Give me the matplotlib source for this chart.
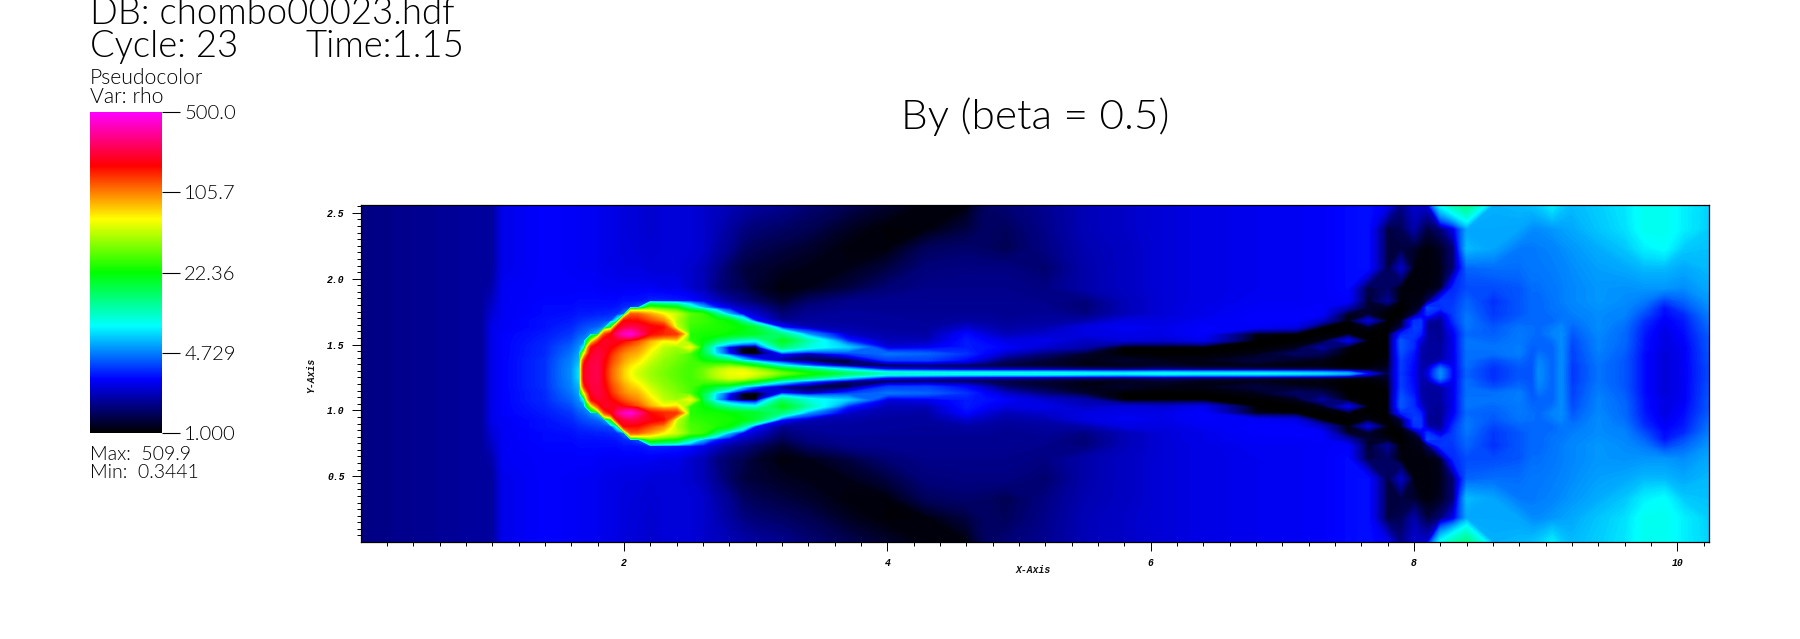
import numpy as np
from matplotlib import pyplot as plt
from matplotlib.cm import ScalarMappable
from matplotlib.colors import LinearSegmentedColormap, LogNorm

W, H = 1800, 639

bar_ticks = [1.0, 4.729, 22.36, 105.7, 500.0]
bar_labels = ['1.000', '4.729', '22.36', '105.7', '500.0']
x_ticks = [2, 4, 6, 8, 10]
y_ticks = [0.5, 1.0, 1.5, 2.0, 2.5]

# distance from the mid line y = 1.28, the picture is close to mirrored
dy_rows = [0, .03, .06, .10, .15, .20, .25, .30, .35, .40, .45, .50, .55, .65, .80, .95, 1.10, 1.28]

x_cols = [0.0, 0.45, 0.92, 1.0, 1.08, 1.4, 1.6, 1.66, 1.70, 1.75, 1.8, 1.85, 1.9, 1.95, 2.0, 2.05, 2.1, 2.2, 2.3, 2.4,
          2.5, 2.6, 2.7, 2.8, 2.9, 3.0, 3.2, 3.4, 3.7, 4.0, 4.3, 4.6, 4.75, 4.9, 5.2, 5.5, 5.8, 6.1, 6.4, 6.8,
          7.1, 7.3, 7.5, 7.65, 7.8, 7.9, 8.0, 8.05, 8.1, 8.2, 8.3, 8.4, 8.6, 8.8, 8.9, 8.95, 9.05, 9.12, 9.2, 9.4,
          9.6, 9.75, 9.9, 10.05, 10.24]

# rho, one line per x column, dy_rows from centre to top
rho_top = [
    [1.7, 1.7, 1.7, 1.7, 1.7, 1.7, 1.7, 1.7, 1.7, 1.7, 1.7, 1.7, 1.7, 1.7, 1.7, 1.7, 1.7, 1.7],
    [1.8, 1.8, 1.8, 1.8, 1.8, 1.8, 1.8, 1.8, 1.8, 1.8, 1.8, 1.8, 1.8, 1.8, 1.8, 1.8, 1.8, 1.8],
    [1.9, 1.9, 1.9, 1.9, 1.9, 1.9, 1.9, 1.9, 1.9, 1.9, 1.9, 1.9, 1.9, 1.9, 1.9, 1.9, 1.9, 1.9],
    [2.6, 2.6, 2.6, 2.6, 2.6, 2.6, 2.6, 2.6, 2.6, 2.5, 2.4, 2.3, 2.2, 2.0, 1.9, 1.9, 1.9, 1.9],
    [2.8, 2.8, 2.8, 2.8, 2.8, 2.8, 2.8, 2.8, 2.7, 2.7, 2.7, 2.7, 2.7, 2.7, 2.6, 2.6, 2.6, 2.6],
    [3.4, 3.4, 3.4, 3.4, 3.3, 3.3, 3.2, 3.1, 3.0, 3.0, 2.9, 2.9, 2.85, 2.8, 2.8, 2.8, 2.8, 2.8],
    [5, 5, 4.9, 4.8, 4.5, 4.2, 3.8, 3.5, 3.3, 3.1, 3, 2.9, 2.85, 2.8, 2.75, 2.75, 2.75, 2.75],
    [7, 7, 6.5, 6, 5.5, 5, 4.5, 4, 3.6, 3.3, 3.1, 3, 2.9, 2.8, 2.7, 2.7, 2.7, 2.7],
    [200, 200, 190, 150, 60, 8, 5, 4.2, 3.8, 3.4, 3.1, 3, 2.9, 2.8, 2.7, 2.7, 2.7, 2.7],
    [230, 230, 230, 225, 200, 160, 40, 5, 4, 3.5, 3.1, 3, 2.9, 2.8, 2.7, 2.7, 2.7, 2.7],
    [240, 240, 240, 230, 230, 210, 120, 6, 4.2, 3.6, 3.2, 3, 2.9, 2.75, 2.65, 2.65, 2.65, 2.65],
    [170, 170, 175, 185, 200, 200, 210, 120, 5, 3.7, 3.2, 3, 2.9, 2.7, 2.6, 2.6, 2.6, 2.6],
    [120, 120, 125, 135, 150, 180, 200, 170, 20, 3.8, 3.3, 3, 2.9, 2.7, 2.6, 2.6, 2.6, 2.6],
    [95, 95, 100, 110, 120, 150, 200, 280, 180, 9, 3.4, 3.1, 2.9, 2.7, 2.55, 2.5, 2.5, 2.5],
    [75, 75, 80, 90, 100, 125, 170, 380, 220, 180, 4.5, 3.3, 3, 2.7, 2.5, 2.45, 2.45, 2.45],
    [62, 63, 68, 78, 90, 110, 150, 420, 240, 170, 120, 3.4, 3, 2.7, 2.5, 2.45, 2.4, 2.4],
    [52, 54, 60, 70, 85, 100, 130, 320, 230, 170, 120, 3.8, 3, 2.7, 2.5, 2.4, 2.4, 2.4],
    [42, 43, 45, 50, 58, 70, 85, 170, 190, 130, 90, 30, 3.2, 2.7, 2.4, 2.35, 2.3, 2.3],
    [36, 37, 38, 40, 44, 48, 62, 150, 170, 100, 65, 25, 3.2, 2.6, 2.4, 2.4, 2.4, 2.4],
    [32, 32, 33, 35, 38, 42, 70, 140, 50, 45, 50, 22, 3.1, 2.6, 2.4, 2.4, 2.4, 2.4],
    [29, 29, 29, 30, 30, 60, 27, 26, 28, 30, 32, 12, 3, 2.3, 2.3, 2.4, 2.4, 2.4],
    [34, 34, 30, 22, 17, 16, 22, 24, 26, 28, 28, 6, 2.6, 2.1, 2.1, 2.3, 2.3, 2.3],
    [48, 45, 32, 18, 7, 6, 15, 24, 25, 25, 14, 3.2, 2.2, 1.7, 1.8, 2, 2.1, 2.2],
    [58, 55, 35, 14, 3, 2.5, 11, 22, 24, 22, 6, 2.5, 1.9, 1.5, 1.5, 1.8, 1.9, 2.1],
    [62, 55, 28, 7, 1.1, 1.15, 9, 20, 22, 12, 2.8, 2.1, 1.7, 1.4, 1.3, 1.5, 1.7, 2],
    [55, 42, 20, 4, 1, 1, 8, 19, 18, 3, 2.3, 1.9, 1.5, 1.2, 1.25, 1.4, 1.6, 1.9],
    [35, 22, 8, 1.6, 3, 14, 20, 13, 3, 1.8, 1.6, 1.4, 1.2, 1.05, 1.15, 1.3, 1.5, 1.8],
    [24, 15, 4, 1.3, 2, 9, 11, 5, 2.1, 1.9, 1.8, 1.7, 1.5, 1.1, 1.1, 1.2, 1.4, 1.6],
    [15, 7, 1.6, 1.2, 3.5, 6.5, 3.2, 2.2, 2, 1.9, 1.9, 1.8, 1.75, 1.3, 1.1, 1.05, 1.15, 1.4],
    [10, 3, 1.2, 3.5, 4.5, 2.4, 2.1, 2, 1.9, 1.9, 1.85, 1.8, 1.8, 1.6, 1.3, 1.05, 1.02, 1.2],
    [9.5, 2.5, 1.4, 3.6, 4.2, 2.6, 2.1, 1.95, 1.9, 1.85, 1.85, 1.8, 1.8, 1.75, 1.65, 1.45, 1.05, 1.05],
    [9, 2.2, 1.4, 2.8, 3.4, 3.1, 3.1, 2.9, 2.3, 1.95, 1.85, 1.8, 1.8, 1.75, 1.7, 1.55, 1.3, 1.05],
    [9, 2.1, 1.35, 2.1, 2.8, 3, 2.8, 2.4, 2.1, 1.9, 1.85, 1.8, 1.8, 1.75, 1.7, 1.5, 1.5, 1.5],
    [9, 2, 1.3, 1.5, 2.2, 2.8, 2.5, 2.1, 1.95, 1.85, 1.8, 1.8, 1.8, 1.75, 1.7, 1.4, 1.45, 1.6],
    [9, 1.8, 1.2, 1.25, 1.6, 2.3, 2.6, 2.3, 2.05, 1.9, 1.85, 1.8, 1.75, 1.7, 1.55, 1.7, 1.75, 1.8],
    [8.5, 1.6, 1.1, 1.1, 1.2, 2, 2.2, 2.5, 2.5, 2, 1.7, 1.6, 1.65, 2, 2, 2.05, 2.1, 2.1],
    [8, 1.5, 1.1, 1.2, 1, 1, 2.4, 2.6, 2.7, 2.5, 2.1, 2.1, 2.1, 2.2, 2.2, 2.2, 2.25, 2.25],
    [8.5, 1.6, 1.2, 1.1, 1, 1, 2.3, 2.6, 2.6, 2.5, 2.4, 2.4, 2.4, 2.4, 2.4, 2.4, 2.4, 2.4],
    [8, 1.5, 1.1, 1.1, 1, 1, 2.6, 2.8, 2.8, 2.7, 2.6, 2.6, 2.55, 2.55, 2.55, 2.55, 2.55, 2.55],
    [8, 1.4, 1.1, 1.3, 1.1, 1, 1, 1.1, 2.7, 2.8, 2.8, 2.75, 2.7, 2.65, 2.65, 2.65, 2.65, 2.65],
    [7.5, 1.3, 1.05, 1.15, 1.5, 1.1, 1, 1, 2.5, 2.8, 2.8, 2.75, 2.7, 2.7, 2.7, 2.7, 2.7, 2.7],
    [7, 1.3, 1.05, 1.1, 1.4, 1.9, 1.1, 1, 1, 2.2, 2.8, 2.8, 2.75, 2.75, 2.75, 2.75, 2.75, 2.75],
    [6, 1.1, 1, 1, 1, 1.05, 2.6, 1.05, 1, 1, 1.1, 2, 2.8, 2.9, 2.9, 2.9, 2.9, 2.9],
    [2.8, 1.1, 1, 1, 1, 1, 1, 1, 1.1, 2.4, 1.2, 1.2, 1.2, 1.3, 3, 3, 3, 3],
    [1.3, 1.2, 1.1, 1.05, 1, 1, 1, 1, 1, 1, 1, 1.1, 1.8, 1.5, 1.3, 1.3, 1.3, 2.6],
    [3.5, 3.6, 3.6, 3.6, 3.8, 4, 4, 3.2, 1.3, 1.1, 1, 1, 1, 1.05, 2.2, 1.3, 1.4, 1.7],
    [2.7, 2.8, 2.8, 2.9, 3, 3.3, 3.3, 3.5, 3.6, 3.4, 1.3, 1.1, 1.1, 1.05, 1.05, 1.2, 2, 2.3],
    [2, 2, 2, 2, 2, 2.1, 2.4, 3.2, 3.5, 3.5, 2.4, 1.2, 1.1, 1.05, 1.05, 1.1, 1.6, 2.3],
    [2.4, 2.2, 2, 1.9, 1.9, 1.9, 1.9, 1.9, 1.8, 2, 3.4, 3.8, 1.4, 1.05, 1.05, 1.05, 1.3, 2.3],
    [5, 4.8, 3.6, 2, 1.9, 1.9, 1.8, 1.8, 1.8, 1.8, 2.3, 3.4, 3.5, 1.15, 1.1, 1.15, 1.6, 8],
    [2.6, 2.6, 2.6, 2.6, 2.6, 2.6, 2.6, 2.7, 3, 3.4, 3.6, 3.6, 3.5, 3.3, 1.6, 1.6, 2.6, 11],
    [4.2, 4.2, 4.4, 4.4, 4.4, 4.5, 4.5, 4.3, 4.5, 4.6, 4.5, 4.3, 4.2, 3.8, 4.2, 6, 5.5, 13],
    [3.4, 3.4, 3.5, 3.8, 4.4, 4.5, 4.3, 4.1, 4, 3.7, 3.5, 3.5, 3.4, 3.8, 4.4, 5.5, 5.6, 5.8],
    [4, 4, 4.1, 4.3, 4.7, 4.7, 4.6, 4.6, 4.5, 4.2, 4, 4, 4, 4, 4.4, 4.6, 5.5, 6],
    [4, 4, 4, 4, 4, 4.1, 4.3, 4.4, 4.4, 4.3, 4.3, 4.3, 4.3, 4.4, 4.6, 4.6, 5, 6.2],
    [5, 5, 4.9, 4.8, 4.5, 4.2, 4.2, 4.3, 4.3, 4.3, 4.3, 4.3, 4.3, 4.4, 4.6, 4.7, 5, 6.5],
    [4.2, 4.2, 4.2, 4.2, 4.2, 4.2, 4.4, 4.8, 4.6, 4.3, 4.4, 4.5, 4.5, 4.6, 4.7, 4.8, 5.2, 7.5],
    [5, 5, 5, 5, 5, 5, 5, 5, 4.9, 4.6, 4.5, 4.6, 4.7, 4.7, 4.8, 5, 5.4, 6.5],
    [3.5, 3.5, 3.5, 3.6, 3.6, 3.7, 3.8, 4, 4.2, 4.5, 4.7, 4.8, 4.9, 4.9, 5, 5.2, 5.6, 6],
    [4.5, 4.5, 4.5, 4.6, 4.7, 4.8, 4.8, 4.9, 5, 5, 5, 5.1, 5.2, 5.2, 5.4, 5.7, 6.3, 6.5],
    [4, 4, 4, 4, 4.1, 4.2, 4.3, 4.3, 4.4, 4.6, 4.8, 4.9, 5, 5.1, 5.6, 6.3, 7, 7.2],
    [2.9, 2.9, 2.9, 2.9, 2.9, 3, 3, 3.1, 3.2, 3.4, 3.8, 4.2, 4.6, 5.2, 6, 7.5, 8.5, 8.5],
    [2.4, 2.4, 2.4, 2.4, 2.4, 2.5, 2.5, 2.5, 2.6, 2.7, 2.9, 3, 3.6, 5.2, 6, 8, 8.5, 8.5],
    [2.7, 2.7, 2.7, 2.7, 2.7, 2.7, 2.8, 2.9, 3, 3.1, 3.3, 3.8, 4.2, 5, 5.6, 6.4, 7.5, 7.5],
    [3.8, 3.8, 3.8, 3.9, 3.9, 4, 4, 4.1, 4.3, 4.5, 4.7, 5, 5.2, 5.6, 6, 6.2, 6.5, 6.6],
]

plt.rcParams['font.family'] = ['Lato', 'DejaVu Sans']

cmap = LinearSegmentedColormap.from_list('hot_and_cold', ['#000000', '#0000ff', '#00ffff', '#00ff00',
                                                          '#ffff00', '#ff0000', '#ff00ff'], N=512)
cmap.set_under('#000000')
cmap.set_over('#ff00ff')
norm = LogNorm(1, 500)


def box(left, top, right, bottom):
    return [left / W, 1 - bottom / H, (right - left) / W, (bottom - top) / H]


def label(x, y, text, size, **kw):
    # x, y in picture pixels, y is the baseline
    fig.text(x / W, 1 - y / H, text, fontsize=size, fontweight=300, color='black', **kw)


fig = plt.figure(figsize=(W / 100, H / 100), dpi=100)

# field
ax = fig.add_axes(box(360.7, 205, 1709, 542))
half = np.array(rho_top).T
dy = np.array(dy_rows)
y = np.concatenate([1.28 - dy[:0:-1], 1.28 + dy])
rho = np.vstack([half[:0:-1], half])
levels = np.logspace(0, np.log10(500), 300)
ax.contourf(x_cols, y, rho, levels=levels, cmap=cmap, norm=norm, extend='both', antialiased=False)
ax.set_xlim(0, 10.24)
ax.set_ylim(0, 2.56)
ax.set_xticks(x_ticks)
ax.set_xticklabels([str(t) for t in x_ticks])
ax.set_yticks(y_ticks)
ax.set_yticklabels([f'{t:.1f}' for t in y_ticks])
ax.set_xticks(np.arange(0.2, 10.24, 0.2), minor=True)
ax.set_yticks(np.arange(0.05, 2.56, 0.05), minor=True)
ax.tick_params(which='major', length=6.5, width=0.7, color='black', pad=5)
ax.tick_params(which='minor', length=3.2, width=0.7, color='black')
for lab in ax.get_xticklabels() + ax.get_yticklabels():
    lab.set_family('Liberation Mono')
    lab.set_weight('bold')
    lab.set_style('italic')
    lab.set_fontsize(7)
for spine in ax.spines.values():
    spine.set_linewidth(0.9)
mono = dict(family='Liberation Mono', weight='bold', style='italic', fontsize=7, color='#111111')
fig.text(1033 / W, 1 - 570 / H, 'X-Axis', ha='center', va='center', **mono)
fig.text(311 / W, 1 - 375 / H, 'Y-Axis', ha='center', va='center', rotation=90, **mono)

# legend bar
cax = fig.add_axes(box(90, 112, 162, 433))
cb = fig.colorbar(ScalarMappable(norm=norm, cmap=cmap), cax=cax)
cb.set_ticks(bar_ticks)
cb.set_ticklabels(bar_labels)
cb.minorticks_off()
cb.outline.set_visible(False)
cax.tick_params(length=13, width=0.8, pad=3, labelsize=14.5)
for lab in cax.get_yticklabels():
    lab.set_fontweight(300)

# header text
label(90, 24, 'DB: chombo00023.hdf', 26.3)
label(90, 57, 'Cycle: 23', 26.3)
label(306, 57, 'Time:1.15', 26.3)
label(90, 84, 'Pseudocolor', 15.2)
label(90, 103, 'Var: rho', 15.2)
label(90, 460, 'Max:  509.9', 14)
label(90, 478, 'Min:  0.3441', 14)
label(1035, 129, 'By (beta = 0.5)', 30.5, ha='center')

plt.savefig('out.png', dpi=100)
